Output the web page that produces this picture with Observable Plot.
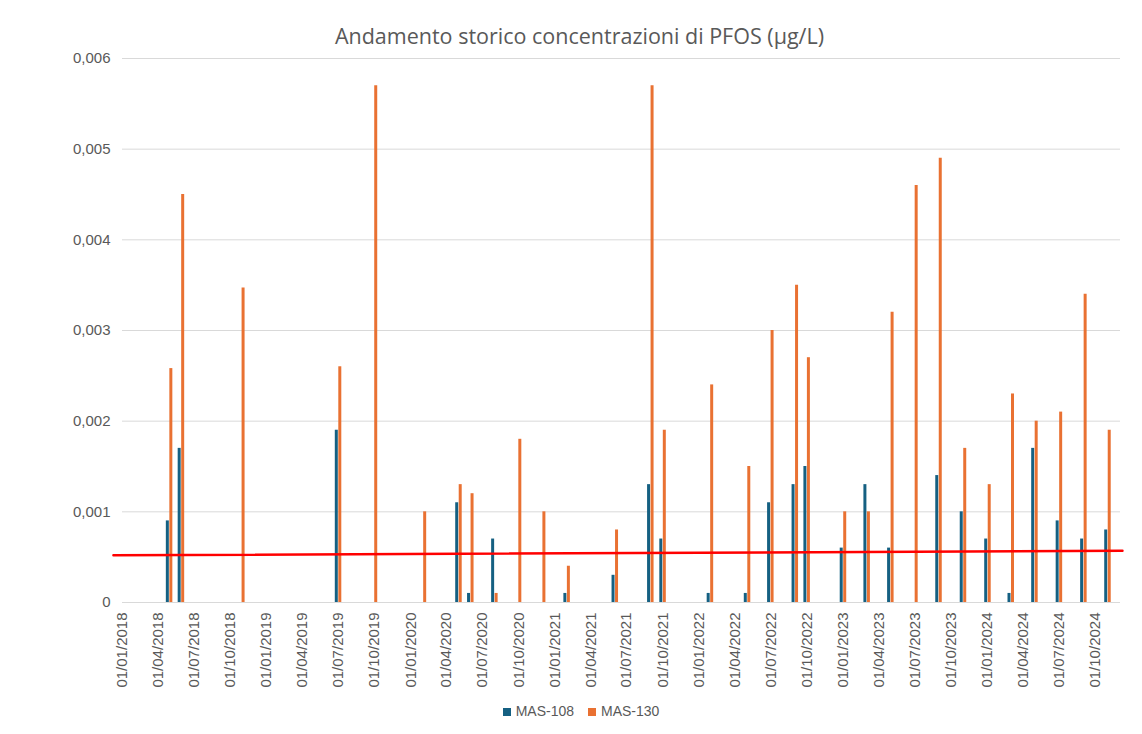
<!DOCTYPE html>
<html>
<head>
<meta charset="utf-8">
<script src="https://cdn.jsdelivr.net/npm/d3@7"></script>
<script src="https://cdn.jsdelivr.net/npm/@observablehq/plot@0.6"></script>
<style>
  body { margin: 0; background: #fff; font-family: "Liberation Sans", Arial, sans-serif; }
  #wrap { width: 1142px; }
  #title { height: 48px; box-sizing: border-box; padding-top: 23px; padding-left: 17px; line-height: 26px;
           text-align: center; font-family: "Open Sans", sans-serif; font-size: 21.5px; color: #595959; white-space: nowrap; }
  #legend { margin-top: 4px; line-height: 20px; height: 20px; text-align: center; padding-left: 20px;
            font-family: "Liberation Sans", Arial, sans-serif; font-size: 14px; color: #595959; }
  .item { display: inline-block; margin: 0 7px; }
  .sw { display: inline-block; width: 8px; height: 8px; margin-right: 5px; vertical-align: 0px; }
</style>
</head>
<body>
<div id="wrap">
  <div id="title">Andamento storico concentrazioni di PFOS (µg/L)</div>
  <div id="chart"></div>
  <div id="legend"></div>
</div>
<script>
// ---- data ----
const sampleDates = [
  "2018-04-29", "2018-05-29", "2018-10-29", "2019-07-01", "2019-09-30",
  "2020-02-01", "2020-05-01", "2020-05-31", "2020-07-31", "2020-09-29",
  "2020-11-29", "2021-01-30", "2021-06-01", "2021-08-30", "2021-09-30",
  "2022-01-28", "2022-05-02", "2022-06-30", "2022-08-31", "2022-09-30",
  "2022-12-31", "2023-03-01", "2023-04-30", "2023-06-30", "2023-08-30",
  "2023-10-31", "2024-01-01", "2024-02-29", "2024-04-29", "2024-06-30",
  "2024-08-31", "2024-10-31"
];
const mas108 = [
  0.0009, 0.0017, null, 0.0019, null,
  null, 0.0011, 0.0001, 0.0007, null,
  null, 0.0001, 0.0003, 0.0013, 0.0007,
  0.0001, 0.0001, 0.0011, 0.0013, 0.0015,
  0.0006, 0.0013, 0.0006, null, 0.0014,
  0.0010, 0.0007, 0.0001, 0.0017, 0.0009,
  0.0007, 0.0008
];
const mas130 = [
  0.00258, 0.0045, 0.00347, 0.0026, 0.0057,
  0.0010, 0.0013, 0.0012, 0.0001, 0.0018,
  0.0010, 0.0004, 0.0008, 0.0057, 0.0019,
  0.0024, 0.0015, 0.0030, 0.0035, 0.0027,
  0.0010, 0.0010, 0.0032, 0.0046, 0.0049,
  0.0017, 0.0013, 0.0023, 0.0020, 0.0021,
  0.0034, 0.0019
];
const seriesNames = ["MAS-108", "MAS-130"];
const seriesColors = ["#156082", "#E97132"];
// linear trend line end points
const trendDates = ["2017-12-09", "2024-12-08"];
const trendValues = [0.00052, 0.00057];
// axes
const xDomain = ["2018-01-01", "2024-12-03"];
const xTickStart = "2018-01-01", xTickEnd = "2024-10-02";
const yTicks = [0, 0.001, 0.002, 0.003, 0.004, 0.005, 0.006];

// ---- build ----
const parse = s => new Date(s + "T00:00:00Z");
const blue = sampleDates.map((d, i) => ({date: parse(d), value: mas108[i]})).filter(d => d.value != null);
const orange = sampleDates.map((d, i) => ({date: parse(d), value: mas130[i]})).filter(d => d.value != null);
const trend = trendDates.map((d, i) => ({date: parse(d), value: trendValues[i]}));
const xTicks = d3.utcMonth.every(3).range(parse(xTickStart), parse(xTickEnd));
const fmtX = d3.utcFormat("%d/%m/%Y");
const fmtY = v => v === 0 ? "0" : v.toFixed(3).replace(".", ",");

const chart = Plot.plot({
  width: 1142,
  height: 649,
  marginTop: 10,
  marginLeft: 122,
  marginRight: 22,
  marginBottom: 95,
  style: {fontFamily: "'Liberation Sans', Arial, sans-serif", fontSize: "15px", color: "#595959", background: "white", overflow: "visible"},
  x: {type: "utc", domain: xDomain.map(parse), label: null},
  y: {domain: [0, 0.006], label: null},
  marks: [
    Plot.gridY(yTicks, {stroke: "#d9d9d9", strokeOpacity: 1, strokeWidth: 1}),
    Plot.axisY(yTicks, {tickSize: 0, tickPadding: 12, tickFormat: fmtY, label: null}),
    Plot.axisX(xTicks, {tickSize: 0, tickPadding: 10, tickRotate: -90, tickFormat: fmtX, label: null}),
    Plot.ruleX(blue, {x: "date", y1: 0, y2: "value", stroke: seriesColors[0], strokeWidth: 3, dx: -1.75}),
    Plot.ruleX(orange, {x: "date", y1: 0, y2: "value", stroke: seriesColors[1], strokeWidth: 3, dx: 1.75}),
    Plot.line(trend, {x: "date", y: "value", stroke: "#ff0000", strokeWidth: 2.5})
  ]
});
document.getElementById("chart").appendChild(chart);

const legend = document.getElementById("legend");
seriesNames.forEach((name, i) => {
  const item = document.createElement("span");
  item.className = "item";
  const sw = document.createElement("span");
  sw.className = "sw";
  sw.style.background = seriesColors[i];
  item.appendChild(sw);
  item.appendChild(document.createTextNode(name));
  legend.appendChild(item);
});
</script>
</body>
</html>
